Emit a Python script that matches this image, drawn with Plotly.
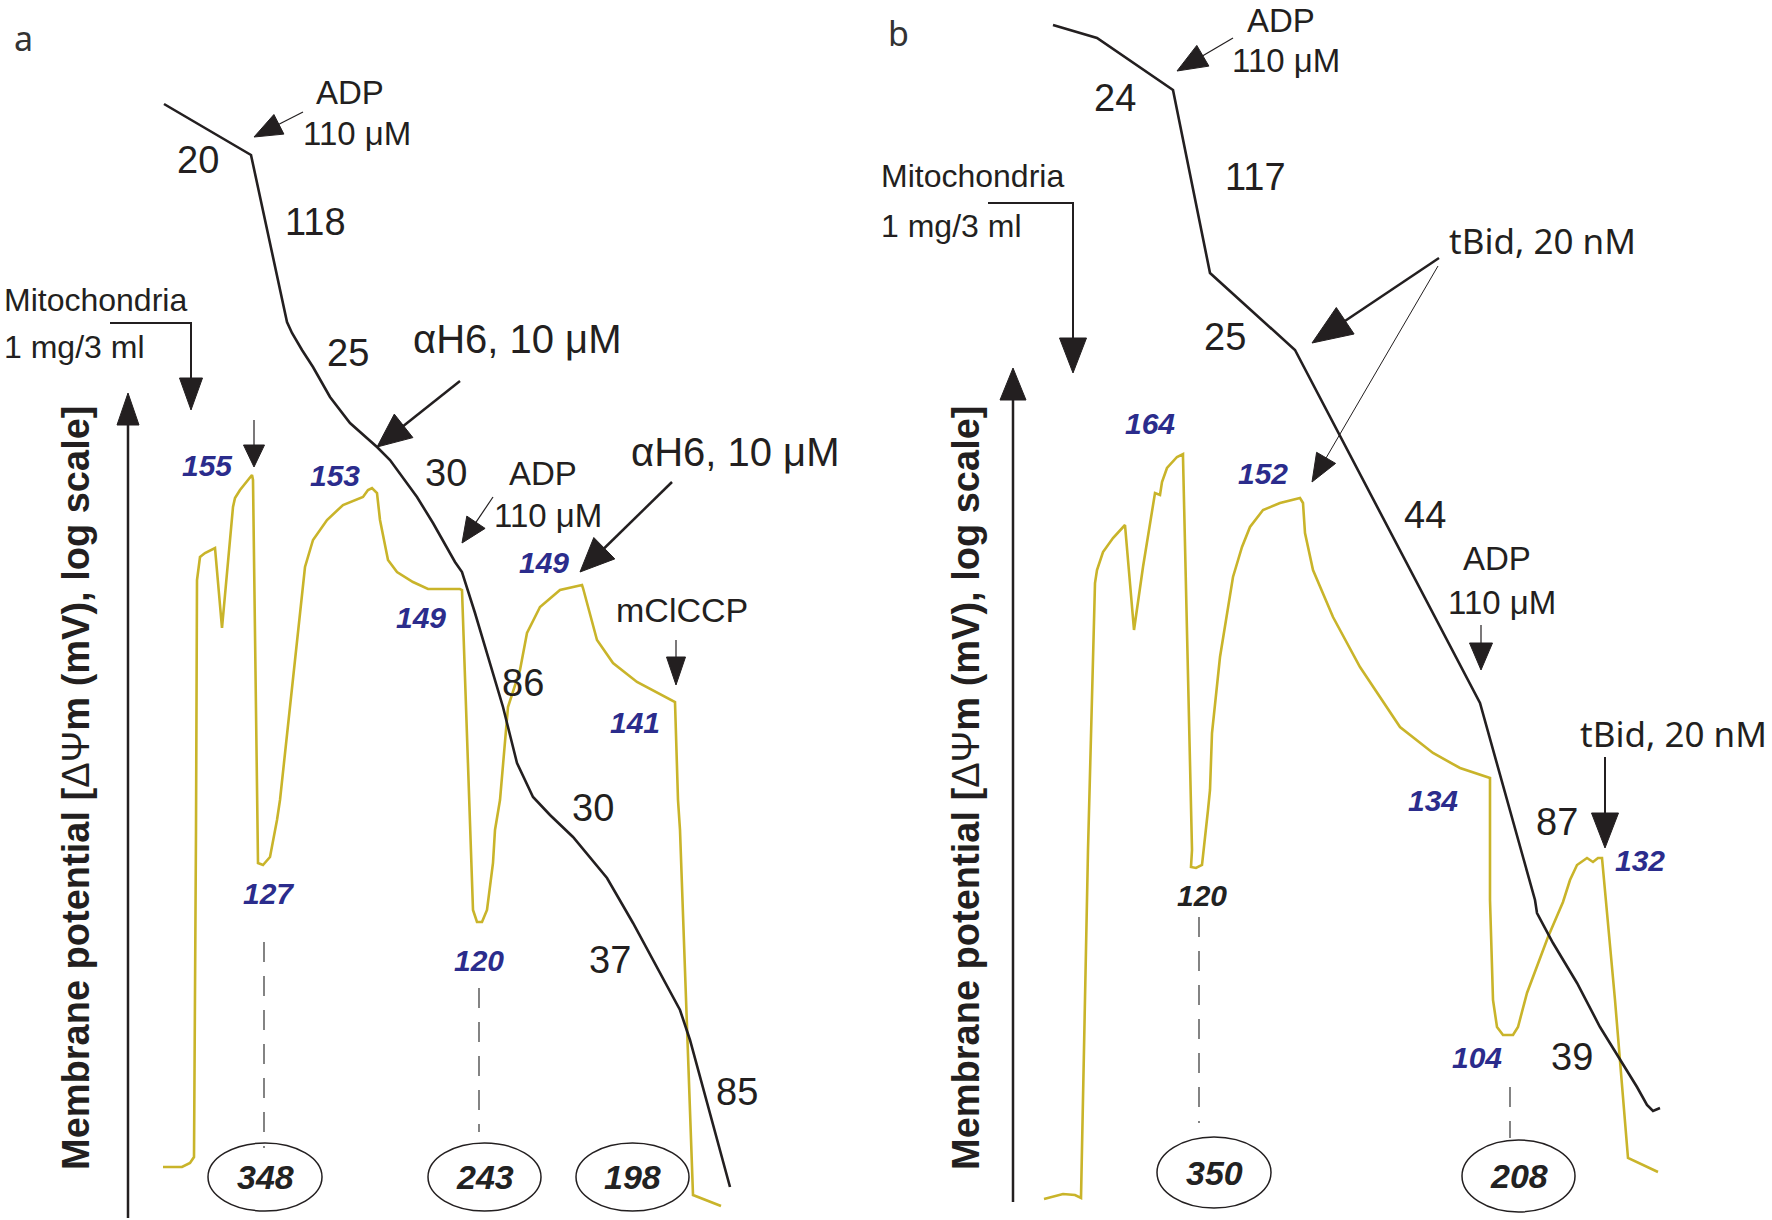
import math
import plotly.graph_objects as go

W, H = 1772, 1220

# ---------------- data: traces (schematic recordings) ----------------
# panel a: oxygen consumption (black) and membrane potential (yellow)
a_black_x = [164, 251, 287, 292, 302, 313, 330, 350, 377, 390, 417, 433, 455, 462, 475, 490, 503, 517, 533, 550, 573, 607, 633, 680, 690, 730]
a_black_y = [104, 155, 322, 333, 350, 367, 397, 423, 447, 460, 497, 523, 562, 572, 613, 663, 707, 763, 797, 815, 837, 878, 923, 1010, 1040, 1187]
a_yellow_x = [163, 182, 190, 194, 196, 197, 200, 205, 215, 222, 233, 235, 240, 252, 253, 258, 258, 263, 270, 277, 280,
              305, 313, 327, 343, 363, 368, 372, 377, 380, 388, 397, 413, 428, 460, 462, 470, 473, 477, 482, 487, 493,
              495, 500, 508, 520, 527, 540, 560, 582, 583, 597, 613, 637, 675, 678, 680, 693, 721]
a_yellow_y = [1167, 1167, 1163, 1157, 830, 580, 557, 553, 548, 628, 507, 498, 490, 475, 480, 830, 863, 865, 857, 820, 800,
              567, 540, 520, 505, 497, 490, 488, 493, 520, 560, 572, 582, 589, 589, 590, 830, 910, 922, 922, 910, 863,
              830, 800, 707, 670, 633, 607, 590, 585, 588, 640, 663, 682, 702, 800, 830, 1195, 1206]

# panel b
b_black_x = [1053, 1097, 1173, 1210, 1295, 1480, 1535, 1537, 1553, 1577, 1600, 1620, 1637, 1647, 1653, 1660]
b_black_y = [25, 38, 90, 273, 350, 703, 900, 913, 943, 983, 1027, 1060, 1087, 1105, 1111, 1108]
b_yellow_x = [1044, 1063, 1075, 1081, 1088, 1095, 1097, 1103, 1113, 1125, 1134, 1143, 1155, 1160, 1162, 1167, 1177, 1183,
              1183, 1192, 1191, 1196, 1202, 1205, 1208, 1210, 1212, 1220, 1228, 1233, 1242, 1250, 1263, 1280, 1300,
              1303, 1305, 1313, 1333, 1360, 1400, 1433, 1460, 1490, 1490, 1492, 1493, 1497, 1503, 1513, 1518, 1527,
              1540, 1548, 1563, 1570, 1577, 1587, 1593, 1598, 1602, 1615, 1628, 1658]
b_yellow_y = [1199, 1194, 1195, 1198, 850, 583, 570, 552, 538, 525, 630, 567, 493, 495, 482, 468, 457, 454,
              457, 850, 867, 868, 865, 840, 810, 790, 733, 657, 607, 577, 547, 527, 510, 503, 498,
              503, 533, 570, 617, 667, 727, 753, 768, 778, 900, 967, 1000, 1027, 1035, 1035, 1027, 993,
              958, 937, 902, 880, 865, 858, 862, 858, 858, 1000, 1158, 1172]

# ---------------- labels ----------------
rate_labels = ["20", "118", "25", "30", "86", "30", "37", "85", "24", "117", "25", "44", "87", "39"]
rate_pos = [(198, 160), (315, 222), (348, 353), (446, 473), (523, 683), (593, 808), (610, 960), (737, 1092),
            (1115, 98), (1255, 177), (1225, 337), (1425, 515), (1557, 822), (1572, 1057)]

potential_labels = ["155", "153", "149", "149", "141", "127", "120", "164", "152", "134", "132", "104"]
potential_pos = [(207, 465), (335, 475), (421, 617), (544, 562), (635, 722), (268, 893), (479, 960),
                 (1150, 423), (1263, 473), (1433, 800), (1640, 860), (1477, 1057)]

ratio_labels = ["348", "243", "198", "350", "208"]
ratio_box = [(208, 1143, 322, 1211), (428, 1143, 541, 1211), (576, 1143, 689, 1211),
             (1157, 1137, 1271, 1208), (1462, 1140, 1575, 1212)]

BLACK = "#231F20"
YELLOW = "#C9B42A"
BLUE = "#2B2C8C"
SANS = "Liberation Sans, Arial, sans-serif"
HUMAN = "Noto Sans, Open Sans, sans-serif"

fig = go.Figure()
for xs, ys, col in [(a_yellow_x, a_yellow_y, YELLOW), (b_yellow_x, b_yellow_y, YELLOW),
                    (a_black_x, a_black_y, BLACK), (b_black_x, b_black_y, BLACK)]:
    fig.add_trace(go.Scatter(x=xs, y=ys, mode="lines", line=dict(color=col, width=2.6),
                             hoverinfo="skip", showlegend=False))

shapes = []
annotations = []


def arrow(points, hl, hw, lw, col=BLACK):
    tip = points[-1]
    prev = points[-2]
    dx, dy = tip[0] - prev[0], tip[1] - prev[1]
    L = math.hypot(dx, dy)
    ux, uy = dx / L, dy / L
    bx, by = tip[0] - ux * hl * 0.8, tip[1] - uy * hl * 0.8
    pts = list(points[:-1]) + [(bx, by)]
    path = "M " + " L ".join(f"{x:.1f},{y:.1f}" for x, y in pts)
    shapes.append(dict(type="path", path=path, xref="x", yref="y",
                       line=dict(color=col, width=lw)))
    cx, cy = tip[0] - ux * hl, tip[1] - uy * hl
    nx, ny = -uy, ux
    p1 = (cx + nx * hw / 2, cy + ny * hw / 2)
    p2 = (cx - nx * hw / 2, cy - ny * hw / 2)
    head = f"M {tip[0]},{tip[1]} L {p1[0]:.1f},{p1[1]:.1f} L {p2[0]:.1f},{p2[1]:.1f} Z"
    shapes.append(dict(type="path", path=head, xref="x", yref="y",
                       fillcolor=col, line=dict(color=col, width=1)))


def text(s, x, y, size, family=SANS, color=BLACK, xanchor="center", angle=0):
    annotations.append(dict(text=s, x=x, y=y, xref="x", yref="y", showarrow=False,
                            xanchor=xanchor, yanchor="middle", textangle=angle,
                            font=dict(size=size, family=family, color=color)))


# arrows
arrow([(303, 112), (254, 137)], 28, 22, 1.2)
arrow([(110, 323), (191, 323), (191, 410)], 32, 23, 2)
arrow([(128, 1218), (128, 393)], 32, 22, 2.5)
arrow([(254, 420), (254, 467)], 22, 21, 1.2)
arrow([(460, 381), (377, 447)], 34, 30, 2.5)
arrow([(493, 497), (462, 543)], 25, 22, 1.2)
arrow([(672, 482), (580, 572)], 34, 30, 2.5)
arrow([(676, 640), (676, 685)], 28, 19, 1.2)
arrow([(1233, 38), (1177, 71)], 30, 24, 1.2)
arrow([(988, 203), (1073, 203), (1073, 373)], 35, 27, 2)
arrow([(1013, 1202), (1013, 368)], 32, 26, 2.5)
arrow([(1439, 258), (1312, 343)], 40, 32, 2.5)
arrow([(1438, 266), (1312, 482)], 28, 22, 1)
arrow([(1481, 625), (1481, 670)], 27, 23, 1.2)
arrow([(1605, 757), (1605, 848)], 35, 27, 2)

# dashed drop lines
for x, y0, y1 in [(264, 942, 1148), (479, 988, 1132), (1199, 917, 1123), (1510, 1087, 1138)]:
    shapes.append(dict(type="line", x0=x, x1=x, y0=y0, y1=y1, xref="x", yref="y",
                       line=dict(color="#333333", width=1.2, dash="20px,14px")))

# ellipses with ratios
for (x0, y0, x1, y1), lab in zip(ratio_box, ratio_labels):
    shapes.append(dict(type="circle", x0=x0, x1=x1, y0=y0, y1=y1, xref="x", yref="y",
                       line=dict(color=BLACK, width=1.5)))
    text(f"<b><i>{lab}</i></b>", (x0 + x1) / 2, (y0 + y1) / 2, 34, color="#222222")

# rate numbers
for lab, (x, y) in zip(rate_labels, rate_pos):
    text(lab, x, y, 38)

# potential numbers
for lab, (x, y) in zip(potential_labels, potential_pos):
    text(f"<b><i>{lab}</i></b>", x, y, 30, color=BLUE)
text("<b><i>120</i></b>", 1202, 895, 30, color="#222222")

# panel letters
text("a", 23, 38, 34, family=HUMAN, color="#333333")
text("b", 898, 33, 34, family=HUMAN, color="#333333")

# additions
text("ADP", 350, 92, 33)
text("110 μM", 357, 133, 33)
text("ADP", 543, 473, 33)
text("110 μM", 548, 515, 33)
text("ADP", 1281, 20, 33)
text("110 μM", 1286, 60, 33)
text("ADP", 1497, 558, 33)
text("110 μM", 1502, 602, 33)
text("αH6, 10 μM", 517, 339, 40)
text("αH6, 10 μM", 735, 452, 40)
text("mClCCP", 682, 610, 34)
text("Mitochondria", 2, 300, 32, xanchor="left")
text("1 mg/3 ml", 2, 347, 32, xanchor="left")
text("Mitochondria", 879, 176, 32, xanchor="left")
text("1 mg/3 ml", 879, 226, 32, xanchor="left")
text("tBid, 20 nM", 1542, 240, 35, family=HUMAN)
text("tBid, 20 nM", 1673, 733, 35, family=HUMAN)

ylab = "<b>Membrane potential [</b>ΔΨ<b>m (mV), log scale]</b>"
text(ylab, 76, 788, 38, angle=-90)
text(ylab, 966, 788, 38, angle=-90)

fig.update_layout(
    width=W, height=H, margin=dict(l=0, r=0, t=0, b=0),
    paper_bgcolor="white", plot_bgcolor="white",
    xaxis=dict(range=[0, W], visible=False, fixedrange=True),
    yaxis=dict(range=[H, 0], visible=False, fixedrange=True),
    shapes=shapes, annotations=annotations, showlegend=False,
)

fig.write_html("out.html", config={"displayModeBar": False},
               post_script="document.body.style.margin='0';")
